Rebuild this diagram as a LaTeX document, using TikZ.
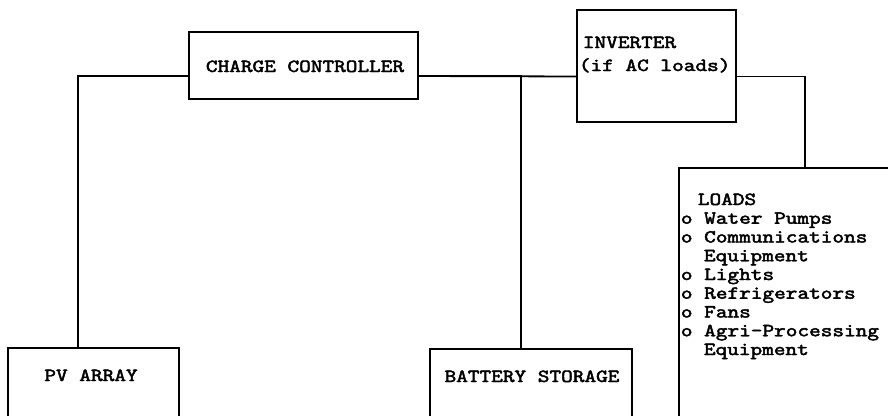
\documentclass[tikz,border=0pt]{standalone}
\usepackage{fontspec}
\newfontfamily\tw{lmmono10-regular}[Extension=.otf,FakeBold=2.2]
\newcommand{\wide}[1]{\scalebox{1.2}[1]{#1}}
\begin{document}
\begin{tikzpicture}[x=1pt,y=-1pt,line width=1.8pt,
  box/.style={draw,rectangle,inner sep=0pt},
  lbl/.style={font=\tw\fontsize{18.5}{18.75}\selectfont,inner sep=0pt}]
\useasboundingbox (0,0) rectangle (888,415);
\fill[white] (0,0) rectangle (888,415);
\clip (0,0) rectangle (888,415);
% boxes
\node[box,minimum width=229pt,minimum height=67pt] (cc) at (303.5,65.5) {};
\node[box,minimum width=159pt,minimum height=112pt] (inv) at (656.5,66) {};
\node[box,minimum width=171pt,minimum height=92pt] (pv) at (93.5,394) {};
\node[box,minimum width=202pt,minimum height=91pt] (bat) at (531,394.5) {};
\node[box,minimum width=252pt,minimum height=272pt] (loads) at (805,304) {};
% texts
\node[lbl,anchor=base] (cct) at (305,72) {\wide{CHARGE CONTROLLER}};
\node[lbl,anchor=base west] (invt1) at (582,48) {\wide{INVERTER}};
\node[lbl,anchor=base west] (invt2) at (578,71) {\wide{(if AC loads)}};
\node[lbl,anchor=base] (pvt) at (91,381) {\wide{PV ARRAY}};
\node[lbl,anchor=base] (batt) at (532,382) {\wide{BATTERY STORAGE}};
\foreach \xx/\tt [count=\i from 0] in {697/LOADS,680/o Water Pumps,680/o Communications,703/Equipment,680/o Lights,680/o Refrigerators,680/o Fans,680/o Agri-Processing,703/Equipment}
  \node[lbl,anchor=base west] (ld\i) at (\xx,205+18.75*\i) {\wide{\tt}};
% connectors
\draw ([yshift=-10.5pt]cc.west) -| ([xshift=-15.5pt]pv.north);
\draw ([yshift=-10.5pt]cc.east) -- ([yshift=-10.5pt]inv.west);
\draw ([xshift=-10pt]bat.north) |- ([yshift=-10.5pt]cc.east);
\draw ([yshift=-10.5pt]inv.east) -| (loads.north);
\end{tikzpicture}
\end{document}
